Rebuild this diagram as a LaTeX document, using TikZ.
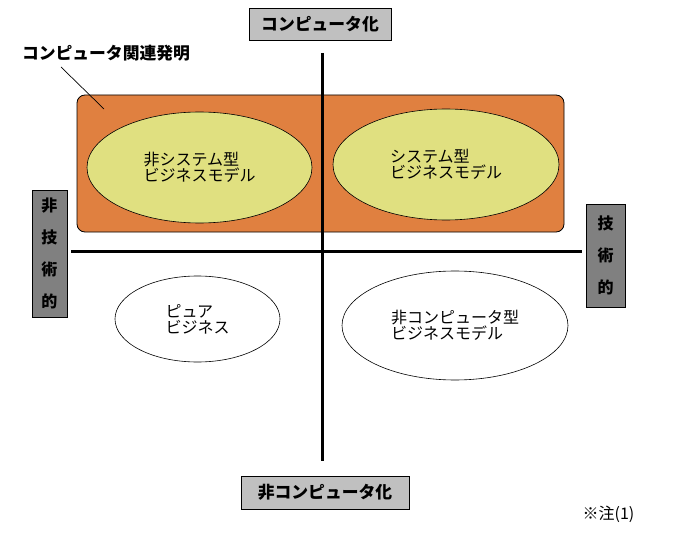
\documentclass[tikz,border=0pt]{standalone}
\usepackage{fontspec}
\setmainfont{Noto Sans CJK JP}
\newfontfamily\jp{Noto Sans CJK JP}
\usetikzlibrary{shapes.geometric}
\definecolor{regionorange}{RGB}{224,128,64}
\definecolor{modelyellow}{RGB}{224,224,128}
\definecolor{axisgray}{RGB}{192,192,192}
\definecolor{sidegray}{RGB}{128,128,128}
\tikzset{
  axislabel/.style={draw=black, line width=0.8pt, fill=axisgray, inner sep=0pt,
    font=\jp\fontsize{16.8}{16}\selectfont\bfseries},
  sidelabel/.style={draw=black, line width=0.8pt, fill=sidegray, inner sep=0pt, align=center,
    font=\jp\fontsize{16}{32}\selectfont\bfseries},
  model/.style={ellipse, draw=black, line width=0.6pt, inner sep=0pt, align=left,
    font=\jp\fontsize{16}{16}\selectfont},
  axisline/.style={line width=3pt},
  leader/.style={line width=0.7pt}
}
\begin{document}
\begin{tikzpicture}[x=1pt,y=-1pt]
\path[use as bounding box, fill=white] (0,0) rectangle (673,543);

% region
\node[draw=black, line width=0.8pt, fill=regionorange, rounded corners=8pt,
  minimum width=487pt, minimum height=137pt, inner sep=0pt] (region) at (320.5,163.5) {};

% models
\node[model, fill=modelyellow, minimum width=225pt, minimum height=111pt] (nonsys) at (199.5,167.5)
  {非システム型\\ビジネスモデル};
\node[model, fill=modelyellow, minimum width=226pt, minimum height=111pt] (sys) at (446,164.5)
  {システム型\\ビジネスモデル};
\node[model, fill=white, minimum width=165pt, minimum height=86pt] (pure) at (197.5,319)
  {ピュア\\ビジネス};
\node[model, fill=white, minimum width=226pt, minimum height=109pt] (noncomp) at (455,325.5)
  {非コンピュータ型\\ビジネスモデル};

% axes
\coordinate (vtop) at (322,53);
\coordinate (vbot) at (322,461);
\coordinate (hleft) at (71,251);
\coordinate (hright) at (582,251);
\draw[axisline] (vtop) -- (vbot);
\draw[axisline] (hleft) -- (hright);

% axis labels
\node[axislabel, minimum width=142pt, minimum height=32pt] (top) at (320,24) {コンピュータ化};
\node[axislabel, minimum width=168pt, minimum height=33pt] (bottom) at (325,492.5) {非コンピュータ化};
\node[sidelabel, minimum width=35pt, minimum height=127pt] (left) at (49.5,253.5) {非\\技\\術\\的};
\node[sidelabel, minimum width=39pt, minimum height=103pt] (right) at (605.5,255.5) {技\\術\\的};

% region label
\node[font=\jp\fontsize{16.8}{16}\selectfont\bfseries, inner sep=0pt] (rlabel) at (106,53) {コンピュータ関連発明};
\coordinate (lstart) at (61,67);
\coordinate (lend) at (104,109);
\draw[leader] (lstart) -- (lend);

% note
\node[font=\jp\fontsize{16}{16}\selectfont, inner sep=0pt] (note) at (608.5,514) {※注(1)};
\end{tikzpicture}
\end{document}
